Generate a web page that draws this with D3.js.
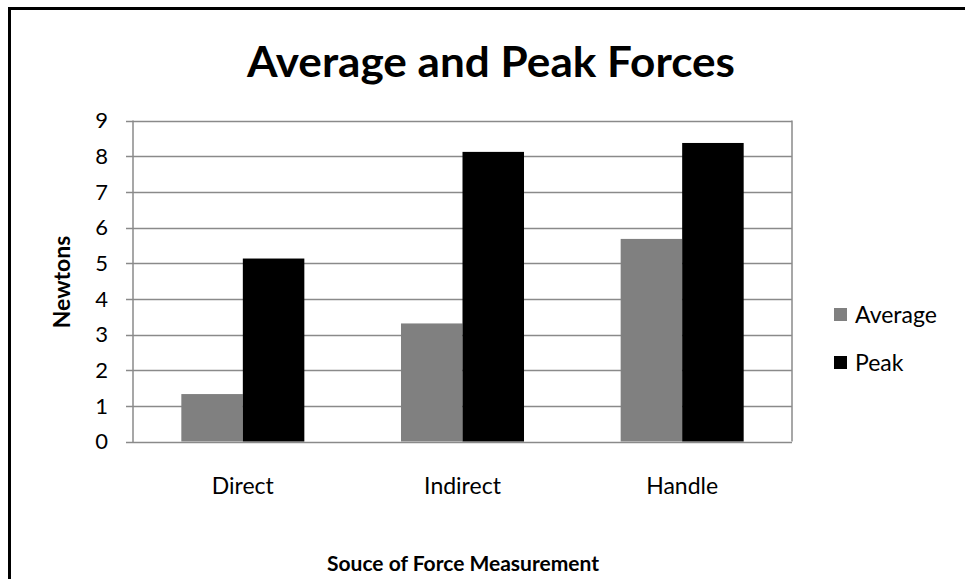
<!DOCTYPE html>
<html><head><meta charset="utf-8">
<script src="https://cdn.jsdelivr.net/npm/d3@7"></script>
<style>
html,body{margin:0;padding:0;background:#fff;}
svg{display:block;font-family:Lato,"Open Sans",sans-serif;}
</style></head>
<body><svg id="c" width="965" height="579"></svg>
<script>
const categories = ["Direct", "Indirect", "Handle"];
const seriesNames = ["Average", "Peak"];
const averageValues = [1.33, 3.31, 5.68];
const peakValues = [5.13, 8.12, 8.37];
const yTicks = [0,1,2,3,4,5,6,7,8,9];
const colors = {Average: "#808080", Peak: "#000000"};
const title = "Average and Peak Forces";
const xTitle = "Souce of Force Measurement";
const yTitle = "Newtons";

const svg = d3.select("#c");
// outer frame (top and left lines visible)
svg.append("rect").attr("x",9.5).attr("y",8.5).attr("width",1000).attr("height",600)
  .attr("fill","none").attr("stroke","#000").attr("stroke-width",3);

const m = {left:133, right:792, top:120.5, bottom:441.5};
const x0 = d3.scaleBand().domain(categories).range([m.left, m.right]).paddingInner(0.44).paddingOuter(0.22);
const x1 = d3.scaleBand().domain(seriesNames).range([0, x0.bandwidth()]);
const y = d3.scaleLinear().domain([0,9]).range([m.bottom, m.top]);

// gridlines
svg.append("g").selectAll("line").data(yTicks).join("line")
  .attr("x1", m.left-7).attr("x2", m.right)
  .attr("y1", d=>Math.round(y(d))+0.5).attr("y2", d=>Math.round(y(d))+0.5)
  .attr("stroke","#8a8a8a").attr("stroke-width",1.5);
svg.append("line").attr("x1",m.right).attr("x2",m.right).attr("y1",y(9)).attr("y2",y(0))
  .attr("stroke","#8a8a8a").attr("stroke-width",1.5);

const data = categories.map((c,i)=>({cat:c, vals:[{s:"Average",v:averageValues[i]},{s:"Peak",v:peakValues[i]}]}));
const g = svg.append("g").selectAll("g").data(data).join("g")
  .attr("transform", d=>`translate(${x0(d.cat)},0)`);
g.selectAll("rect").data(d=>d.vals).join("rect")
  .attr("x", d=>x1(d.s)).attr("width", x1.bandwidth())
  .attr("y", d=>y(d.v)).attr("height", d=>y(0)-y(d.v))
  .attr("fill", d=>colors[d.s]);

svg.append("line").attr("x1",m.left).attr("x2",m.left).attr("y1",y(9)).attr("y2",y(0)+1)
  .attr("stroke","#8a8a8a").attr("stroke-width",1.5);

// y tick labels
svg.append("g").selectAll("text").data(yTicks).join("text")
  .attr("x", 108).attr("y", d=>y(d)).attr("dy","0.36em")
  .attr("text-anchor","end").attr("font-size",22).attr("fill","#000").text(d=>d);

// category labels
svg.append("g").selectAll("text").data(categories).join("text")
  .attr("x", d=>x0(d)+x0.bandwidth()/2).attr("y", 494)
  .attr("text-anchor","middle").attr("font-size",23).attr("fill","#000").text(d=>d);

// titles
svg.append("text").attr("x",491).attr("y",77).attr("text-anchor","middle")
  .attr("font-size",42).attr("font-weight","bold")
  .attr("textLength",488).attr("lengthAdjust","spacingAndGlyphs").text(title);
svg.append("text").attr("x",463).attr("y",571).attr("text-anchor","middle")
  .attr("font-size",21).attr("font-weight","bold").text(xTitle);
svg.append("text").attr("transform","translate(70,282) rotate(-90)").attr("text-anchor","middle")
  .attr("font-size",23).attr("font-weight","bold").text(yTitle);

// legend
const lg = svg.append("g").selectAll("g").data(seriesNames).join("g")
  .attr("transform",(d,i)=>`translate(834,${308+i*48})`);
lg.append("rect").attr("width",13).attr("height",13).attr("fill",d=>colors[d]);
lg.append("text").attr("x",21).attr("y",6.5).attr("dy","0.36em").attr("font-size",23).text(d=>d);
</script></body></html>
